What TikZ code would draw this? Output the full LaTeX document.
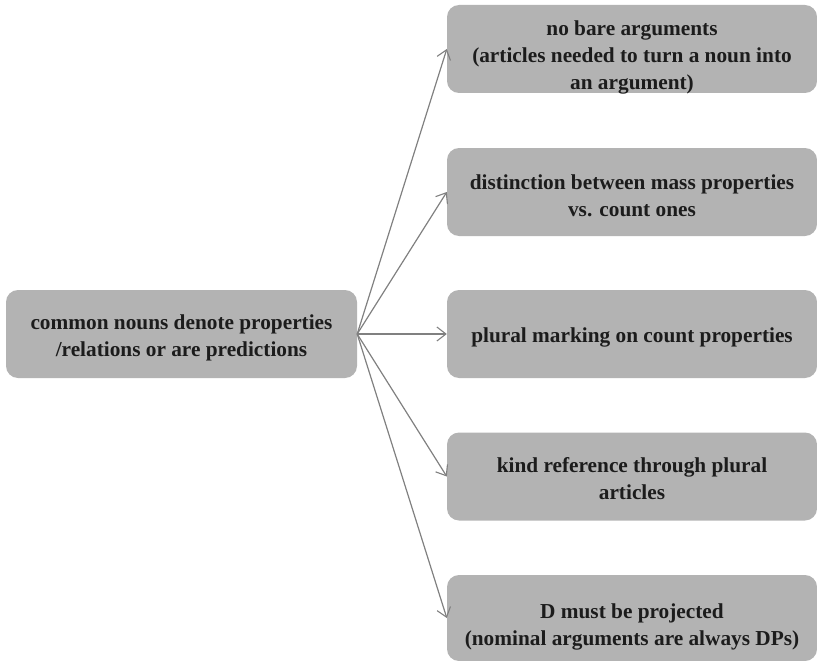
\documentclass[tikz,border=0pt]{standalone}
\usepackage{fontspec}
\setmainfont{Liberation Serif}
\usetikzlibrary{arrows.meta}
\definecolor{boxfill}{RGB}{179,179,179}
\definecolor{linkgray}{RGB}{128,128,128}
\definecolor{inkdark}{RGB}{28,28,28}
\begin{document}
\begin{tikzpicture}[x=1pt,y=-1pt,
  card/.style={fill=boxfill, rounded corners=12pt, inner sep=0pt,
    minimum height=88pt},
  caption/.style={inner sep=0pt, text=inkdark, align=center,
    font=\fontsize{21.3}{27}\selectfont\bfseries},
  link/.style={draw=linkgray, line width=1.2pt,
    -{Straight Barb[length=9pt,width=14pt,line width=1.1pt]}}]
\useasboundingbox (0,0) rectangle (817,661);
% boxes
\node[card, minimum width=351pt] (src) at (181.5,334) {};
\node[card, minimum width=370pt] (t1) at (632,49) {};
\node[card, minimum width=370pt] (t2) at (632,192) {};
\node[card, minimum width=370pt] (t3) at (632,334) {};
\node[card, minimum width=370pt] (t4) at (632,476.5) {};
\node[card, minimum width=370pt, minimum height=86pt] (t5) at (632,618) {};
% box texts
\node[caption, yshift=-4pt] (src text) at (src.center)
  {common nouns denote properties\\/relations or are predictions};
\node[caption, yshift=-8pt] (t1 text) at (t1.center)
  {no bare arguments\\(articles needed to turn a noun into\\an argument)};
\node[caption, yshift=-4pt] (t2 text) at (t2.center)
  {distinction between mass properties\\vs. count ones};
\node[caption, yshift=-3pt] (t3 text) at (t3.center)
  {plural marking on count properties};
\node[caption, yshift=-2pt] (t4 text) at (t4.center)
  {kind reference through plural\\articles};
\node[caption, yshift=-9pt] (t5 text) at (t5.center)
  {D must be projected\\(nominal arguments are always DPs)};
% connectors
\foreach \t in {t1,t2,t3,t4,t5}
  \draw[link] (src.east) -- (\t.west);
\end{tikzpicture}
\end{document}
